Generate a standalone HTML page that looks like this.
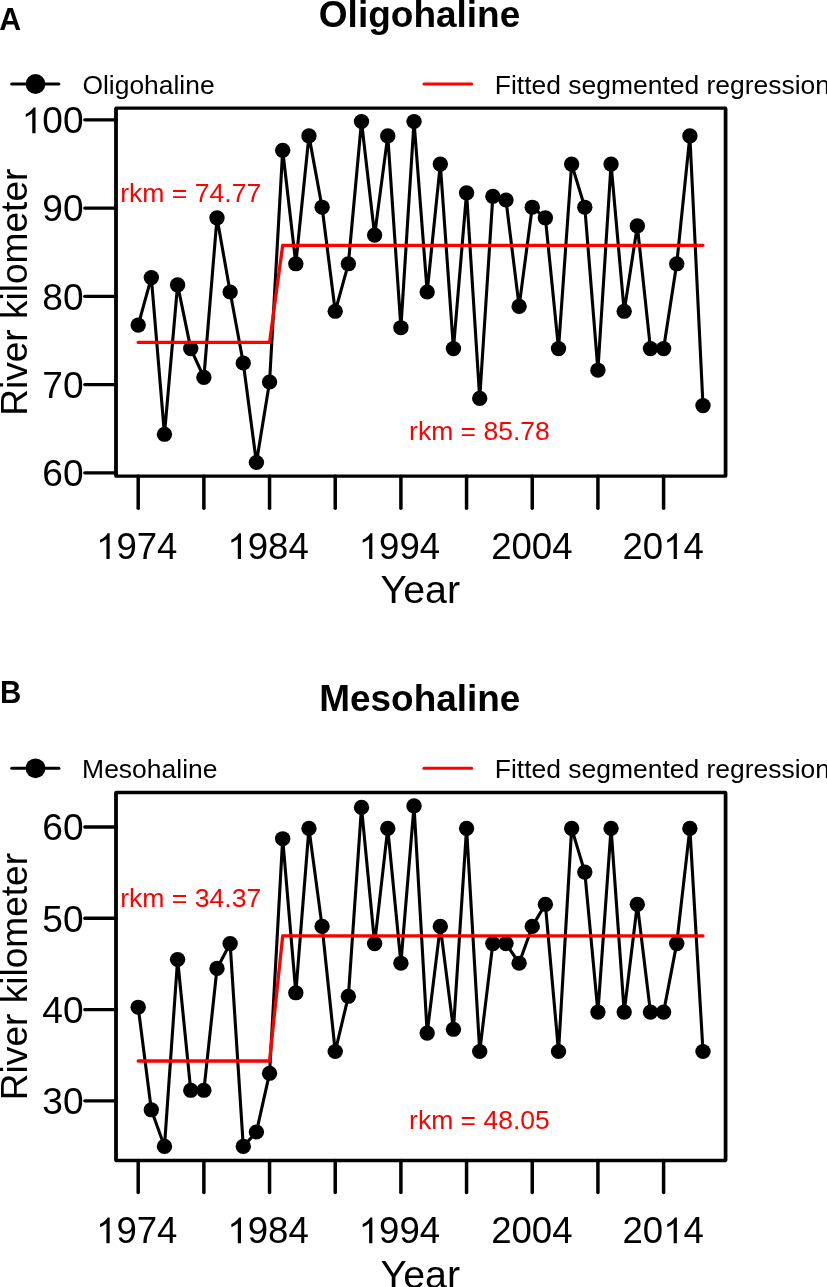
<!DOCTYPE html>
<html><head><meta charset="utf-8"><style>
html,body{margin:0;padding:0;background:#fff;overflow:hidden;}
svg{display:block;will-change:transform;}
text{font-family:"Liberation Sans", sans-serif;fill:#000;}
</style></head><body>
<svg width="827" height="1287" viewBox="0 0 827 1287">
<rect width="827" height="1287" fill="#fff"/>
<text transform="translate(-0.76,29.60) scale(0.9774,1)" font-size="31" font-weight="bold">A</text>
<text transform="translate(318.82,26.84) scale(1.0283,1)" font-size="36" font-weight="bold">Oligohaline</text>
<line x1="11.75" y1="84.00" x2="58.85" y2="84.00" stroke="#000" stroke-width="3.1" stroke-linecap="round"/>
<circle cx="35.5" cy="84.00" r="9.9" fill="#000"/>
<text transform="translate(82.41,93.90) scale(1.0165,1)" font-size="26">Oligohaline</text>
<line x1="424.0" y1="84.00" x2="471.7" y2="84.00" stroke="#f00" stroke-width="3.1" stroke-linecap="round"/>
<text transform="translate(494.78,93.90) scale(1.0180,1)" font-size="26">Fitted segmented regression</text>
<path d="M116.0,108.20H725.55V476.20H116.0Z" stroke="#000" stroke-width="3.3" stroke-linejoin="round" fill="none"/>
<path d="M116.0,108.20V476.20M725.55,108.20V476.20" stroke="#000" stroke-width="3.5" stroke-linecap="butt" fill="none"/>
<line x1="84.8" y1="119.80" x2="116.0" y2="119.80" stroke="#000" stroke-width="3.3" stroke-linecap="round"/>
<g transform="translate(21.69,133.24) scale(0.9900,1)"><text font-size="37.5"><tspan style="fill:none">1</tspan>00</text><path transform="translate(0.000,0) scale(0.01831,-0.01752)" d="M763 0H583V1147Q518 1085 412.5 1023T223 930V1104Q375 1175 489 1276T650 1472H763V0Z"/></g>
<line x1="84.8" y1="208.05" x2="116.0" y2="208.05" stroke="#000" stroke-width="3.3" stroke-linecap="round"/>
<g transform="translate(42.29,221.49) scale(0.9900,1)"><text font-size="37.5">90</text></g>
<line x1="84.8" y1="296.30" x2="116.0" y2="296.30" stroke="#000" stroke-width="3.3" stroke-linecap="round"/>
<g transform="translate(42.29,309.74) scale(0.9900,1)"><text font-size="37.5">80</text></g>
<line x1="84.8" y1="384.55" x2="116.0" y2="384.55" stroke="#000" stroke-width="3.3" stroke-linecap="round"/>
<g transform="translate(42.29,397.99) scale(0.9900,1)"><text font-size="37.5">70</text></g>
<line x1="84.8" y1="472.80" x2="116.0" y2="472.80" stroke="#000" stroke-width="3.3" stroke-linecap="round"/>
<g transform="translate(42.29,486.24) scale(0.9900,1)"><text font-size="37.5">60</text></g>
<line x1="138.20" y1="476.20" x2="138.20" y2="508.30" stroke="#000" stroke-width="3.5" stroke-linecap="round"/>
<line x1="203.88" y1="476.20" x2="203.88" y2="508.30" stroke="#000" stroke-width="3.5" stroke-linecap="round"/>
<line x1="269.55" y1="476.20" x2="269.55" y2="508.30" stroke="#000" stroke-width="3.5" stroke-linecap="round"/>
<line x1="335.23" y1="476.20" x2="335.23" y2="508.30" stroke="#000" stroke-width="3.5" stroke-linecap="round"/>
<line x1="400.90" y1="476.20" x2="400.90" y2="508.30" stroke="#000" stroke-width="3.5" stroke-linecap="round"/>
<line x1="466.57" y1="476.20" x2="466.57" y2="508.30" stroke="#000" stroke-width="3.5" stroke-linecap="round"/>
<line x1="532.25" y1="476.20" x2="532.25" y2="508.30" stroke="#000" stroke-width="3.5" stroke-linecap="round"/>
<line x1="597.92" y1="476.20" x2="597.92" y2="508.30" stroke="#000" stroke-width="3.5" stroke-linecap="round"/>
<line x1="663.60" y1="476.20" x2="663.60" y2="508.30" stroke="#000" stroke-width="3.5" stroke-linecap="round"/>
<g transform="translate(96.02,559.00) scale(0.9760,1)"><text font-size="37.5"><tspan style="fill:none">1</tspan>974</text><path transform="translate(0.000,0) scale(0.01831,-0.01752)" d="M763 0H583V1147Q518 1085 412.5 1023T223 930V1104Q375 1175 489 1276T650 1472H763V0Z"/></g>
<g transform="translate(227.37,559.00) scale(0.9760,1)"><text font-size="37.5"><tspan style="fill:none">1</tspan>984</text><path transform="translate(0.000,0) scale(0.01831,-0.01752)" d="M763 0H583V1147Q518 1085 412.5 1023T223 930V1104Q375 1175 489 1276T650 1472H763V0Z"/></g>
<g transform="translate(358.72,559.00) scale(0.9760,1)"><text font-size="37.5"><tspan style="fill:none">1</tspan>994</text><path transform="translate(0.000,0) scale(0.01831,-0.01752)" d="M763 0H583V1147Q518 1085 412.5 1023T223 930V1104Q375 1175 489 1276T650 1472H763V0Z"/></g>
<g transform="translate(491.17,559.00) scale(0.9760,1)"><text font-size="37.5">2004</text></g>
<g transform="translate(622.52,559.00) scale(0.9760,1)"><text font-size="37.5">20<tspan style="fill:none">1</tspan>4</text><path transform="translate(41.711,0) scale(0.01831,-0.01752)" d="M763 0H583V1147Q518 1085 412.5 1023T223 930V1104Q375 1175 489 1276T650 1472H763V0Z"/></g>
<text transform="translate(380.52,603.30) scale(1.0367,1)" font-size="38">Year</text>
<text transform="translate(27.1,415.87) rotate(-90) scale(0.9891,1)" font-size="37.5">River kilometer</text>
<polyline points="138.20,325.10 151.33,277.60 164.47,434.30 177.60,284.80 190.74,348.60 203.88,377.40 217.01,217.80 230.14,292.00 243.28,363.00 256.41,462.50 269.55,382.00 282.68,150.30 295.82,263.80 308.95,135.90 322.09,207.20 335.23,311.30 348.36,263.80 361.50,121.50 374.63,235.10 387.76,135.90 400.90,327.70 414.03,121.50 427.17,292.00 440.31,164.10 453.44,348.60 466.57,192.80 479.71,398.40 492.84,196.30 505.98,200.00 519.12,306.40 532.25,207.20 545.38,217.80 558.52,348.60 571.65,164.10 584.79,207.20 597.92,370.20 611.06,164.10 624.19,311.30 637.33,225.90 650.46,348.60 663.60,348.60 676.73,263.80 689.87,135.90 703.00,405.60" fill="none" stroke="#000" stroke-width="3.1" stroke-linejoin="round" stroke-linecap="round"/>
<ellipse cx="138.20" cy="325.10" rx="7.7" ry="7.55" fill="#000"/>
<ellipse cx="151.33" cy="277.60" rx="7.7" ry="7.55" fill="#000"/>
<ellipse cx="164.47" cy="434.30" rx="7.7" ry="7.55" fill="#000"/>
<ellipse cx="177.60" cy="284.80" rx="7.7" ry="7.55" fill="#000"/>
<ellipse cx="190.74" cy="348.60" rx="7.7" ry="7.55" fill="#000"/>
<ellipse cx="203.88" cy="377.40" rx="7.7" ry="7.55" fill="#000"/>
<ellipse cx="217.01" cy="217.80" rx="7.7" ry="7.55" fill="#000"/>
<ellipse cx="230.14" cy="292.00" rx="7.7" ry="7.55" fill="#000"/>
<ellipse cx="243.28" cy="363.00" rx="7.7" ry="7.55" fill="#000"/>
<ellipse cx="256.41" cy="462.50" rx="7.7" ry="7.55" fill="#000"/>
<ellipse cx="269.55" cy="382.00" rx="7.7" ry="7.55" fill="#000"/>
<ellipse cx="282.68" cy="150.30" rx="7.7" ry="7.55" fill="#000"/>
<ellipse cx="295.82" cy="263.80" rx="7.7" ry="7.55" fill="#000"/>
<ellipse cx="308.95" cy="135.90" rx="7.7" ry="7.55" fill="#000"/>
<ellipse cx="322.09" cy="207.20" rx="7.7" ry="7.55" fill="#000"/>
<ellipse cx="335.23" cy="311.30" rx="7.7" ry="7.55" fill="#000"/>
<ellipse cx="348.36" cy="263.80" rx="7.7" ry="7.55" fill="#000"/>
<ellipse cx="361.50" cy="121.50" rx="7.7" ry="7.55" fill="#000"/>
<ellipse cx="374.63" cy="235.10" rx="7.7" ry="7.55" fill="#000"/>
<ellipse cx="387.76" cy="135.90" rx="7.7" ry="7.55" fill="#000"/>
<ellipse cx="400.90" cy="327.70" rx="7.7" ry="7.55" fill="#000"/>
<ellipse cx="414.03" cy="121.50" rx="7.7" ry="7.55" fill="#000"/>
<ellipse cx="427.17" cy="292.00" rx="7.7" ry="7.55" fill="#000"/>
<ellipse cx="440.31" cy="164.10" rx="7.7" ry="7.55" fill="#000"/>
<ellipse cx="453.44" cy="348.60" rx="7.7" ry="7.55" fill="#000"/>
<ellipse cx="466.57" cy="192.80" rx="7.7" ry="7.55" fill="#000"/>
<ellipse cx="479.71" cy="398.40" rx="7.7" ry="7.55" fill="#000"/>
<ellipse cx="492.84" cy="196.30" rx="7.7" ry="7.55" fill="#000"/>
<ellipse cx="505.98" cy="200.00" rx="7.7" ry="7.55" fill="#000"/>
<ellipse cx="519.12" cy="306.40" rx="7.7" ry="7.55" fill="#000"/>
<ellipse cx="532.25" cy="207.20" rx="7.7" ry="7.55" fill="#000"/>
<ellipse cx="545.38" cy="217.80" rx="7.7" ry="7.55" fill="#000"/>
<ellipse cx="558.52" cy="348.60" rx="7.7" ry="7.55" fill="#000"/>
<ellipse cx="571.65" cy="164.10" rx="7.7" ry="7.55" fill="#000"/>
<ellipse cx="584.79" cy="207.20" rx="7.7" ry="7.55" fill="#000"/>
<ellipse cx="597.92" cy="370.20" rx="7.7" ry="7.55" fill="#000"/>
<ellipse cx="611.06" cy="164.10" rx="7.7" ry="7.55" fill="#000"/>
<ellipse cx="624.19" cy="311.30" rx="7.7" ry="7.55" fill="#000"/>
<ellipse cx="637.33" cy="225.90" rx="7.7" ry="7.55" fill="#000"/>
<ellipse cx="650.46" cy="348.60" rx="7.7" ry="7.55" fill="#000"/>
<ellipse cx="663.60" cy="348.60" rx="7.7" ry="7.55" fill="#000"/>
<ellipse cx="676.73" cy="263.80" rx="7.7" ry="7.55" fill="#000"/>
<ellipse cx="689.87" cy="135.90" rx="7.7" ry="7.55" fill="#000"/>
<ellipse cx="703.00" cy="405.60" rx="7.7" ry="7.55" fill="#000"/>
<polyline points="138.20,342.40 269.55,342.40 282.68,245.30 703.00,245.30" fill="none" stroke="#f00" stroke-width="3.3" stroke-linejoin="round" stroke-linecap="round"/>
<text transform="translate(120.17,202.00) scale(1.0232,1)" font-size="26" style="fill:#f00">rkm = 74.77</text>
<text transform="translate(409.08,440.00) scale(1.0192,1)" font-size="26" style="fill:#f00">rkm = 85.78</text>
<text transform="translate(0.08,703.30) scale(0.9519,1)" font-size="31" font-weight="bold">B</text>
<text transform="translate(319.20,710.80) scale(1.0264,1)" font-size="36" font-weight="bold">Mesohaline</text>
<line x1="11.75" y1="768.30" x2="58.85" y2="768.30" stroke="#000" stroke-width="3.1" stroke-linecap="round"/>
<circle cx="35.5" cy="768.30" r="9.9" fill="#000"/>
<text transform="translate(82.08,778.30) scale(1.0190,1)" font-size="26">Mesohaline</text>
<line x1="424.0" y1="768.30" x2="471.7" y2="768.30" stroke="#f00" stroke-width="3.1" stroke-linecap="round"/>
<text transform="translate(494.78,778.30) scale(1.0180,1)" font-size="26">Fitted segmented regression</text>
<path d="M116.0,792.50H725.55V1160.50H116.0Z" stroke="#000" stroke-width="3.3" stroke-linejoin="round" fill="none"/>
<path d="M116.0,792.50V1160.50M725.55,792.50V1160.50" stroke="#000" stroke-width="3.5" stroke-linecap="butt" fill="none"/>
<line x1="84.8" y1="827.00" x2="116.0" y2="827.00" stroke="#000" stroke-width="3.3" stroke-linecap="round"/>
<g transform="translate(42.29,840.44) scale(0.9900,1)"><text font-size="37.5">60</text></g>
<line x1="84.8" y1="918.27" x2="116.0" y2="918.27" stroke="#000" stroke-width="3.3" stroke-linecap="round"/>
<g transform="translate(42.29,931.71) scale(0.9900,1)"><text font-size="37.5">50</text></g>
<line x1="84.8" y1="1009.53" x2="116.0" y2="1009.53" stroke="#000" stroke-width="3.3" stroke-linecap="round"/>
<g transform="translate(42.29,1022.97) scale(0.9900,1)"><text font-size="37.5">40</text></g>
<line x1="84.8" y1="1100.80" x2="116.0" y2="1100.80" stroke="#000" stroke-width="3.3" stroke-linecap="round"/>
<g transform="translate(42.29,1114.24) scale(0.9900,1)"><text font-size="37.5">30</text></g>
<line x1="138.20" y1="1160.50" x2="138.20" y2="1192.60" stroke="#000" stroke-width="3.5" stroke-linecap="round"/>
<line x1="203.88" y1="1160.50" x2="203.88" y2="1192.60" stroke="#000" stroke-width="3.5" stroke-linecap="round"/>
<line x1="269.55" y1="1160.50" x2="269.55" y2="1192.60" stroke="#000" stroke-width="3.5" stroke-linecap="round"/>
<line x1="335.23" y1="1160.50" x2="335.23" y2="1192.60" stroke="#000" stroke-width="3.5" stroke-linecap="round"/>
<line x1="400.90" y1="1160.50" x2="400.90" y2="1192.60" stroke="#000" stroke-width="3.5" stroke-linecap="round"/>
<line x1="466.57" y1="1160.50" x2="466.57" y2="1192.60" stroke="#000" stroke-width="3.5" stroke-linecap="round"/>
<line x1="532.25" y1="1160.50" x2="532.25" y2="1192.60" stroke="#000" stroke-width="3.5" stroke-linecap="round"/>
<line x1="597.92" y1="1160.50" x2="597.92" y2="1192.60" stroke="#000" stroke-width="3.5" stroke-linecap="round"/>
<line x1="663.60" y1="1160.50" x2="663.60" y2="1192.60" stroke="#000" stroke-width="3.5" stroke-linecap="round"/>
<g transform="translate(96.02,1243.30) scale(0.9760,1)"><text font-size="37.5"><tspan style="fill:none">1</tspan>974</text><path transform="translate(0.000,0) scale(0.01831,-0.01752)" d="M763 0H583V1147Q518 1085 412.5 1023T223 930V1104Q375 1175 489 1276T650 1472H763V0Z"/></g>
<g transform="translate(227.37,1243.30) scale(0.9760,1)"><text font-size="37.5"><tspan style="fill:none">1</tspan>984</text><path transform="translate(0.000,0) scale(0.01831,-0.01752)" d="M763 0H583V1147Q518 1085 412.5 1023T223 930V1104Q375 1175 489 1276T650 1472H763V0Z"/></g>
<g transform="translate(358.72,1243.30) scale(0.9760,1)"><text font-size="37.5"><tspan style="fill:none">1</tspan>994</text><path transform="translate(0.000,0) scale(0.01831,-0.01752)" d="M763 0H583V1147Q518 1085 412.5 1023T223 930V1104Q375 1175 489 1276T650 1472H763V0Z"/></g>
<g transform="translate(491.17,1243.30) scale(0.9760,1)"><text font-size="37.5">2004</text></g>
<g transform="translate(622.52,1243.30) scale(0.9760,1)"><text font-size="37.5">20<tspan style="fill:none">1</tspan>4</text><path transform="translate(41.711,0) scale(0.01831,-0.01752)" d="M763 0H583V1147Q518 1085 412.5 1023T223 930V1104Q375 1175 489 1276T650 1472H763V0Z"/></g>
<text transform="translate(380.52,1287.60) scale(1.0367,1)" font-size="38">Year</text>
<text transform="translate(27.1,1100.17) rotate(-90) scale(0.9891,1)" font-size="37.5">River kilometer</text>
<polyline points="138.20,1007.20 151.33,1109.80 164.47,1146.40 177.60,959.50 190.74,1090.30 203.88,1090.30 217.01,968.40 230.14,943.60 243.28,1146.40 256.41,1132.00 269.55,1073.30 282.68,838.70 295.82,992.80 308.95,828.40 322.09,926.40 335.23,1051.50 348.36,996.30 361.50,807.40 374.63,943.60 387.76,828.40 400.90,963.20 414.03,805.90 427.17,1033.10 440.31,926.40 453.44,1029.30 466.57,828.40 479.71,1051.50 492.84,943.60 505.98,943.60 519.12,963.20 532.25,926.40 545.38,904.30 558.52,1051.50 571.65,828.40 584.79,872.10 597.92,1012.10 611.06,828.40 624.19,1012.10 637.33,904.30 650.46,1012.10 663.60,1012.10 676.73,943.60 689.87,828.40 703.00,1051.50" fill="none" stroke="#000" stroke-width="3.1" stroke-linejoin="round" stroke-linecap="round"/>
<ellipse cx="138.20" cy="1007.20" rx="7.7" ry="7.55" fill="#000"/>
<ellipse cx="151.33" cy="1109.80" rx="7.7" ry="7.55" fill="#000"/>
<ellipse cx="164.47" cy="1146.40" rx="7.7" ry="7.55" fill="#000"/>
<ellipse cx="177.60" cy="959.50" rx="7.7" ry="7.55" fill="#000"/>
<ellipse cx="190.74" cy="1090.30" rx="7.7" ry="7.55" fill="#000"/>
<ellipse cx="203.88" cy="1090.30" rx="7.7" ry="7.55" fill="#000"/>
<ellipse cx="217.01" cy="968.40" rx="7.7" ry="7.55" fill="#000"/>
<ellipse cx="230.14" cy="943.60" rx="7.7" ry="7.55" fill="#000"/>
<ellipse cx="243.28" cy="1146.40" rx="7.7" ry="7.55" fill="#000"/>
<ellipse cx="256.41" cy="1132.00" rx="7.7" ry="7.55" fill="#000"/>
<ellipse cx="269.55" cy="1073.30" rx="7.7" ry="7.55" fill="#000"/>
<ellipse cx="282.68" cy="838.70" rx="7.7" ry="7.55" fill="#000"/>
<ellipse cx="295.82" cy="992.80" rx="7.7" ry="7.55" fill="#000"/>
<ellipse cx="308.95" cy="828.40" rx="7.7" ry="7.55" fill="#000"/>
<ellipse cx="322.09" cy="926.40" rx="7.7" ry="7.55" fill="#000"/>
<ellipse cx="335.23" cy="1051.50" rx="7.7" ry="7.55" fill="#000"/>
<ellipse cx="348.36" cy="996.30" rx="7.7" ry="7.55" fill="#000"/>
<ellipse cx="361.50" cy="807.40" rx="7.7" ry="7.55" fill="#000"/>
<ellipse cx="374.63" cy="943.60" rx="7.7" ry="7.55" fill="#000"/>
<ellipse cx="387.76" cy="828.40" rx="7.7" ry="7.55" fill="#000"/>
<ellipse cx="400.90" cy="963.20" rx="7.7" ry="7.55" fill="#000"/>
<ellipse cx="414.03" cy="805.90" rx="7.7" ry="7.55" fill="#000"/>
<ellipse cx="427.17" cy="1033.10" rx="7.7" ry="7.55" fill="#000"/>
<ellipse cx="440.31" cy="926.40" rx="7.7" ry="7.55" fill="#000"/>
<ellipse cx="453.44" cy="1029.30" rx="7.7" ry="7.55" fill="#000"/>
<ellipse cx="466.57" cy="828.40" rx="7.7" ry="7.55" fill="#000"/>
<ellipse cx="479.71" cy="1051.50" rx="7.7" ry="7.55" fill="#000"/>
<ellipse cx="492.84" cy="943.60" rx="7.7" ry="7.55" fill="#000"/>
<ellipse cx="505.98" cy="943.60" rx="7.7" ry="7.55" fill="#000"/>
<ellipse cx="519.12" cy="963.20" rx="7.7" ry="7.55" fill="#000"/>
<ellipse cx="532.25" cy="926.40" rx="7.7" ry="7.55" fill="#000"/>
<ellipse cx="545.38" cy="904.30" rx="7.7" ry="7.55" fill="#000"/>
<ellipse cx="558.52" cy="1051.50" rx="7.7" ry="7.55" fill="#000"/>
<ellipse cx="571.65" cy="828.40" rx="7.7" ry="7.55" fill="#000"/>
<ellipse cx="584.79" cy="872.10" rx="7.7" ry="7.55" fill="#000"/>
<ellipse cx="597.92" cy="1012.10" rx="7.7" ry="7.55" fill="#000"/>
<ellipse cx="611.06" cy="828.40" rx="7.7" ry="7.55" fill="#000"/>
<ellipse cx="624.19" cy="1012.10" rx="7.7" ry="7.55" fill="#000"/>
<ellipse cx="637.33" cy="904.30" rx="7.7" ry="7.55" fill="#000"/>
<ellipse cx="650.46" cy="1012.10" rx="7.7" ry="7.55" fill="#000"/>
<ellipse cx="663.60" cy="1012.10" rx="7.7" ry="7.55" fill="#000"/>
<ellipse cx="676.73" cy="943.60" rx="7.7" ry="7.55" fill="#000"/>
<ellipse cx="689.87" cy="828.40" rx="7.7" ry="7.55" fill="#000"/>
<ellipse cx="703.00" cy="1051.50" rx="7.7" ry="7.55" fill="#000"/>
<polyline points="138.20,1061.00 269.55,1061.00 282.68,935.90 703.00,935.90" fill="none" stroke="#f00" stroke-width="3.3" stroke-linejoin="round" stroke-linecap="round"/>
<text transform="translate(120.17,906.80) scale(1.0232,1)" font-size="26" style="fill:#f00">rkm = 34.37</text>
<text transform="translate(409.08,1128.90) scale(1.0192,1)" font-size="26" style="fill:#f00">rkm = 48.05</text>
</svg>
</body></html>
